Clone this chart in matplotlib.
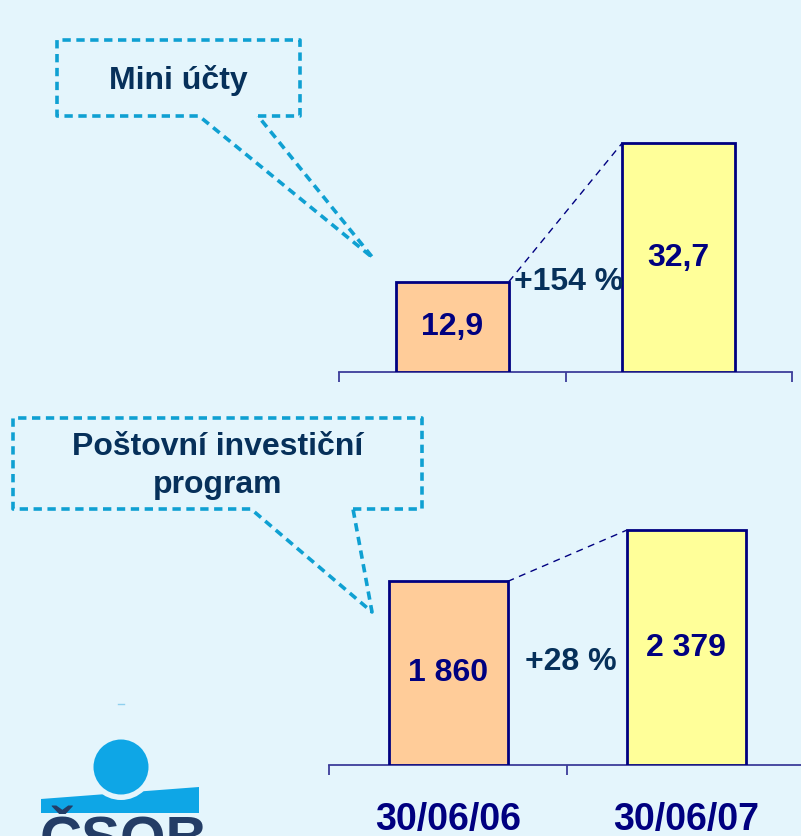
import matplotlib
matplotlib.use("Agg")
import matplotlib.pyplot as plt
from matplotlib.patches import Circle, Polygon

plt.rcParams["font.family"] = ["Liberation Sans", "DejaVu Sans"]
plt.rcParams["lines.scale_dashes"] = False

# data
dates = ["30/06/06", "30/06/07"]
mini_ucty = [12.9, 32.7]
mini_labels = ["12,9", "32,7"]
mini_growth = "+154 %"
pip = [1860, 2379]
pip_labels = ["1 860", "2 379"]
pip_growth = "+28 %"
titles = ["Mini účty", "Poštovní investiční\nprogram"]

BG = "#e4f5fc"
NAVY = "#000080"
TEXT = "#06305a"
CYAN = "#0fa0d2"
BAR_COLORS = ["#ffcc99", "#ffff99"]

W, H = 801, 836
fig = plt.figure(figsize=(W / 100, H / 100), dpi=100, facecolor=BG)


def px_axes(x0, x1, y_base, height):
    return fig.add_axes([x0 / W, 1 - y_base / H, (x1 - x0) / W, height / H])


def bar_chart(ax, values, labels, growth, growth_pos, ymax, show_dates):
    ax.set_facecolor("none")
    x = range(len(values))
    ax.bar(x, values, width=0.5, color=BAR_COLORS, edgecolor=NAVY, linewidth=2, zorder=3)
    for i, (v, lab) in enumerate(zip(values, labels)):
        ax.text(i, v / 2, lab, ha="center", va="center", fontsize=23,
                fontweight="bold", color=NAVY, zorder=4)
    ax.plot([0.25, 0.75], values, color=NAVY, lw=1, dashes=(5, 4), zorder=2)
    ax.text(growth_pos[0], growth_pos[1], growth, transform=ax.transAxes,
            ha="center", va="center", fontsize=23, fontweight="bold", color=TEXT)
    ax.set_xlim(-0.5, len(values) - 0.5)
    ax.set_ylim(0, ymax)
    for s in ["top", "right", "left"]:
        ax.spines[s].set_visible(False)
    ax.spines["bottom"].set_color("#3c3c9a")
    ax.spines["bottom"].set_linewidth(1.3)
    ax.set_yticks([])
    ax.set_xticks([-0.5, 0.5, 1.5])
    ax.set_xticklabels([])
    ax.tick_params(axis="x", direction="out", length=7, width=1.3, color="#3c3c9a")
    if show_dates:
        for i, d in enumerate(dates):
            ax.annotate(d, xy=(i, 0), xycoords=("data", "axes fraction"),
                        xytext=(0, -55), textcoords="offset pixels",
                        ha="center", va="center", fontsize=27,
                        fontweight="bold", color=NAVY)


ax1 = px_axes(339, 792, 372, 280)
bar_chart(ax1, mini_ucty, mini_labels, mini_growth, (0.507, 0.322), 40, False)

ax2 = px_axes(329, 805, 765, 296)
bar_chart(ax2, pip, pip_labels, pip_growth, (0.508, 0.348), 3000, True)

# overlay in pixel coordinates for callouts and logo
ov = fig.add_axes([0, 0, 1, 1], zorder=-1)
ov.set_xlim(0, W)
ov.set_ylim(H, 0)
ov.axis("off")
ov.set_facecolor("none")


def callout(rect, gap, tip, text, ty):
    x0, y0, x1, y1 = rect
    g0, g1 = gap
    xs = [g1, x1, x1, x0, x0, g0, tip[0], g1]
    ys = [y1, y1, y0, y0, y1, y1, tip[1], y1]
    ov.plot(xs, ys, color=CYAN, lw=2.6, dashes=(6, 4), solid_joinstyle="miter")
    ov.text((x0 + x1) / 2, ty, text, ha="center", va="center", fontsize=23,
            fontweight="bold", color=TEXT, linespacing=1.35)


callout((57, 40, 300, 116), (199, 258), (373, 258), titles[0], 80)
callout((13, 418, 422, 509), (251, 353), (372, 612), titles[1], 466)

# logo
ov.plot([118, 124], [704, 704], color="#8fd0ee", lw=1)
ov.add_patch(Polygon([(41, 799), (199, 787), (199, 813), (41, 813)],
                     closed=True, color="#0ea6e6", lw=0))
ov.add_patch(Circle((121, 767), 33, color=BG, lw=0))
ov.add_patch(Circle((121, 767), 27.5, color="#0ea6e6", lw=0))
ov.text(40, 816, "ČSOB", ha="left", va="top", fontsize=42, fontweight="bold",
        color="#243d66")

fig.savefig("out.png", dpi=100, facecolor=BG)
